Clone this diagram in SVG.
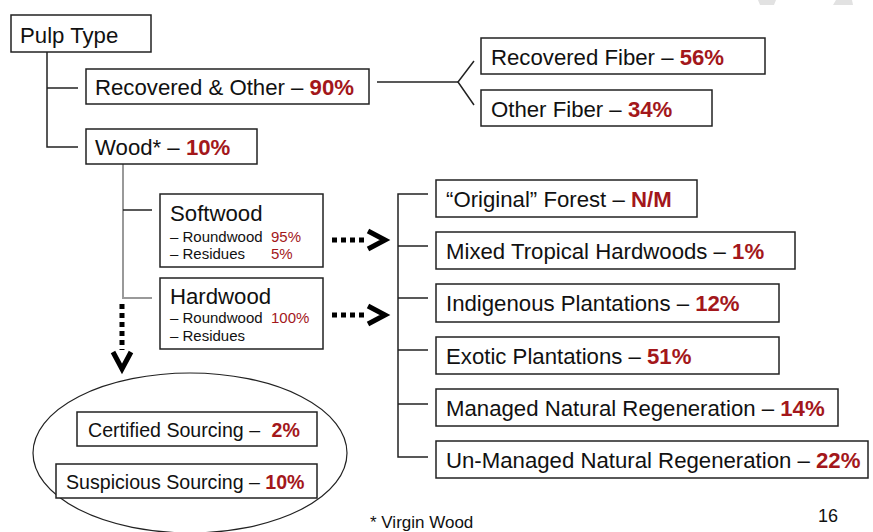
<svg xmlns="http://www.w3.org/2000/svg" width="873" height="532" viewBox="0 0 873 532">
<style>
.box{fill:#fff;stroke:#222;stroke-width:1.5}
.t{font-family:"Liberation Sans",Arial,sans-serif;font-size:22.2px;fill:#111}
.m{font-family:"Liberation Sans",Arial,sans-serif;font-size:19.6px;fill:#111}
.s{font-family:"Liberation Sans",Arial,sans-serif;font-size:15px;fill:#111}
.r{fill:#a3171b;font-weight:bold}
.rn{fill:#a3171b}
.ln{fill:none;stroke:#222;stroke-width:1.5}
.gl{fill:none;stroke:#999;stroke-width:2}
.dot{fill:none;stroke:#000;stroke-width:5;stroke-dasharray:5 4}
.chev{fill:none;stroke:#000;stroke-width:5;stroke-linejoin:miter;stroke-miterlimit:10}
</style>
<rect width="873" height="532" fill="#fff"/>
<g id="watermark" fill="#e2e2e2">
<polygon points="758,0 776,0 774,5 760,5"/>
<polygon points="836,0 852,0 853,5 833,5"/>
</g>
<g id="connectors">
<polyline class="ln" points="47,52 47,147 78,147"/>
<line class="ln" x1="47" y1="88" x2="78" y2="88"/>
<line class="ln" x1="377" y1="82" x2="458" y2="82"/>
<polyline class="ln" points="474,61 458,82 474,105"/>
<polyline class="gl" points="123,164 123,298 152,298"/>
<line class="ln" x1="123" y1="210" x2="152" y2="210"/>
<polyline class="ln" points="428,194 398,194 398,457 428,457"/>
<line class="ln" x1="398" y1="246" x2="428" y2="246"/>
<line class="ln" x1="398" y1="298" x2="428" y2="298"/>
<line class="ln" x1="398" y1="350" x2="428" y2="350"/>
<line class="ln" x1="398" y1="404" x2="428" y2="404"/>
<line class="dot" x1="332" y1="240" x2="368" y2="240"/>
<polyline class="chev" points="368,231 385,240 368,249"/>
<line class="dot" x1="332" y1="315" x2="368" y2="315"/>
<polyline class="chev" points="368,306 385,315 368,324"/>
<line class="dot" x1="122" y1="304" x2="122" y2="350"/>
<polyline class="chev" points="113,352 122,369 131,352"/>
</g>
<g id="pulp-type"><rect class="box" x="11" y="15" width="140" height="37"/><text class="t" x="20" y="43">Pulp Type</text></g>
<g id="recovered-other"><rect class="box" x="86" y="69" width="283" height="35"/><text class="t" x="95" y="95">Recovered &amp; Other – <tspan class="r">90%</tspan></text></g>
<g id="wood"><rect class="box" x="86" y="129" width="171" height="35"/><text class="t" x="95" y="155">Wood* – <tspan class="r">10%</tspan></text></g>
<g id="recovered-fiber"><rect class="box" x="481" y="38" width="284" height="36"/><text class="t" x="491" y="65">Recovered Fiber – <tspan class="r">56%</tspan></text></g>
<g id="other-fiber"><rect class="box" x="481" y="90" width="231" height="36"/><text class="t" x="491" y="117">Other Fiber – <tspan class="r">34%</tspan></text></g>
<g id="softwood"><rect class="box" x="160" y="194" width="163" height="73"/>
<text class="t" x="170" y="221">Softwood</text>
<text class="s" x="170" y="242">– Roundwood</text><text class="s rn" x="271" y="242">95%</text>
<text class="s" x="170" y="259">– Residues</text><text class="s rn" x="271" y="259">5%</text></g>
<g id="hardwood"><rect class="box" x="160" y="278" width="163" height="71"/>
<text class="t" x="170" y="304">Hardwood</text>
<text class="s" x="170" y="323">– Roundwood</text><text class="s rn" x="271" y="323">100%</text>
<text class="s" x="170" y="341">– Residues</text></g>
<g id="original-forest"><rect class="box" x="436" y="180" width="261" height="37"/><text class="t" x="446" y="207">“Original” Forest – <tspan class="r">N/M</tspan></text></g>
<g id="mixed-tropical"><rect class="box" x="436" y="232" width="359" height="37"/><text class="t" x="446" y="259">Mixed Tropical Hardwoods – <tspan class="r">1%</tspan></text></g>
<g id="indigenous"><rect class="box" x="436" y="284" width="343" height="38"/><text class="t" x="446" y="311">Indigenous Plantations – <tspan class="r">12%</tspan></text></g>
<g id="exotic"><rect class="box" x="436" y="337" width="343" height="37"/><text class="t" x="446" y="364">Exotic Plantations – <tspan class="r">51%</tspan></text></g>
<g id="managed"><rect class="box" x="436" y="389" width="402" height="37"/><text class="t" x="446" y="416">Managed Natural Regeneration – <tspan class="r">14%</tspan></text></g>
<g id="unmanaged"><rect class="box" x="436" y="441" width="432" height="37"/><text class="t" x="446" y="468">Un-Managed Natural Regeneration – <tspan class="r">22%</tspan></text></g>
<g id="sourcing"><ellipse cx="190" cy="453" rx="157" ry="80" fill="none" stroke="#222" stroke-width="1.2"/>
<g id="certified"><rect class="box" x="77" y="412" width="240" height="34"/><text class="m" x="88" y="437">Certified Sourcing – <tspan class="r" dx="6">2%</tspan></text></g>
<g id="suspicious"><rect class="box" x="56" y="464" width="261" height="34"/><text class="m" x="66" y="489">Suspicious Sourcing – <tspan class="r">10%</tspan></text></g></g>
<text class="s" x="370" y="528" style="font-size:17px">* Virgin Wood</text>
<text class="s" x="818" y="522" style="font-size:18px">16</text>
</svg>
